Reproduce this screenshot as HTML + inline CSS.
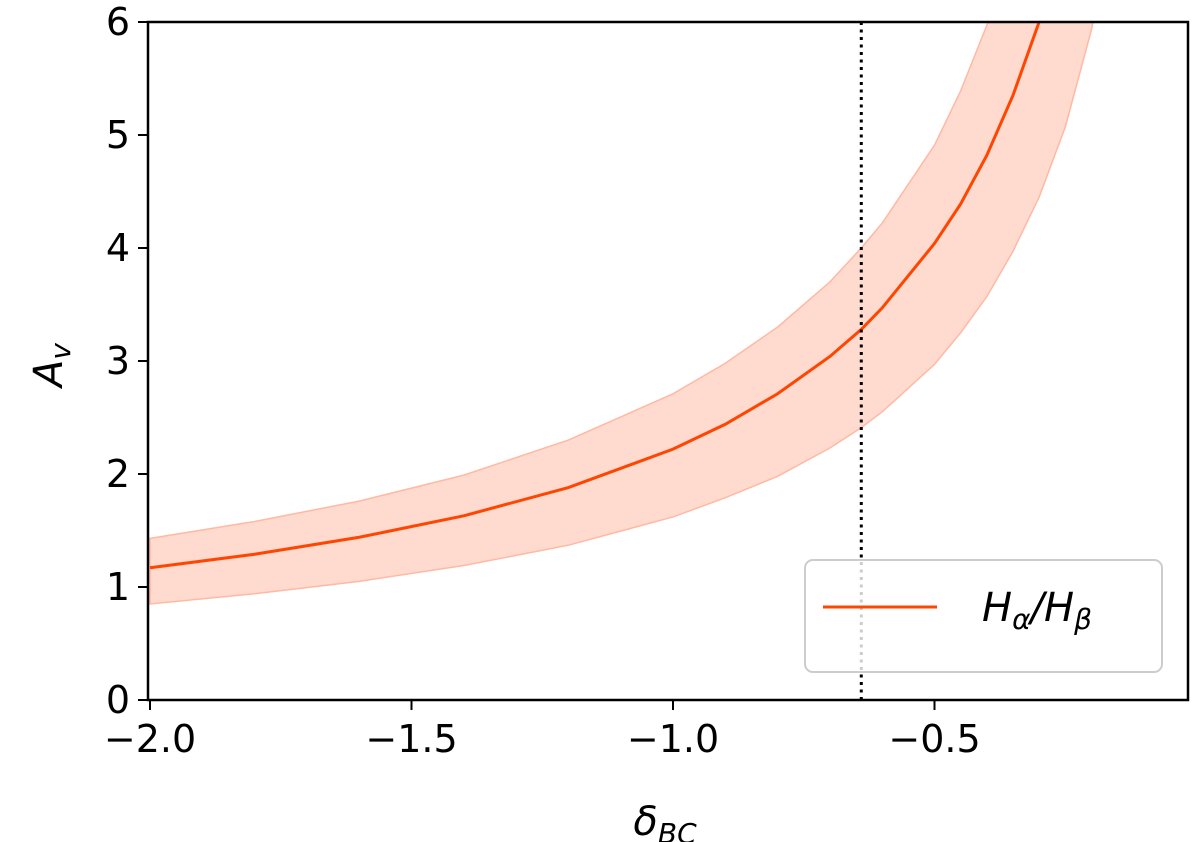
<!DOCTYPE html>
<html><head><meta charset="utf-8"><style>
body{margin:0;background:#fff;}
svg{display:block;font-family:"DejaVu Sans","Liberation Sans",sans-serif;}
</style></head><body>
<svg width="1200" height="842" viewBox="0 0 1200 842">
<defs><clipPath id="pc"><rect x="148" y="22" width="1040" height="678"/></clipPath></defs>
<g id="plot" clip-path="url(#pc)"></g>
<rect x="148" y="22" width="1040" height="678" fill="none" stroke="#000" stroke-width="2.5"/>
<g id="ticks"></g>
<text x="665" y="835" font-size="40" text-anchor="middle" font-style="italic">δ<tspan font-size="28" dy="8">BC</tspan></text>
<text transform="translate(62,365) rotate(-90)" font-size="40" text-anchor="middle" font-style="italic">A<tspan font-size="28" dy="8">v</tspan></text>
<g>
<rect x="805" y="560" width="357" height="112" rx="8" fill="#fff" fill-opacity="0.8" stroke="#ccc" stroke-width="2"/>
<line x1="823" y1="607" x2="937" y2="607" stroke="#ff4500" stroke-width="3"/>
<text x="982" y="621" font-size="40" font-style="italic">H<tspan font-size="28" dy="8">α</tspan><tspan dy="-8">/H</tspan><tspan font-size="28" dy="8">β</tspan></text>
</g>
</svg>
<script>
const xs=[-2,-1.8,-1.6,-1.4,-1.2,-1.0,-0.9,-0.8,-0.7,-0.64,-0.6,-0.5,-0.45,-0.4,-0.35,-0.3,-0.25,-0.2,-0.15];
const center=[1.17,1.29,1.44,1.63,1.88,2.22,2.44,2.71,3.04,3.28,3.47,4.04,4.39,4.82,5.35,6.0,6.8,7.9,9.5];
const upper=[1.43,1.58,1.76,1.99,2.30,2.71,2.98,3.30,3.70,4.0,4.22,4.91,5.39,5.97,6.51,7.29,8.2,9.5,11.3];
const lower=[0.85,0.94,1.05,1.19,1.37,1.62,1.79,1.98,2.23,2.41,2.55,2.97,3.25,3.57,3.97,4.45,5.07,5.93,7.1];
const vline=-0.64;
const xTicks=[-2.0,-1.5,-1.0,-0.5];
const xTickLabels=["−2.0","−1.5","−1.0","−0.5"];
const yTicks=[0,1,2,3,4,5,6];
const X=v=>150+(v+2)*523;
const Y=v=>700-v*113;
const NS="http://www.w3.org/2000/svg";
const plot=document.getElementById('plot');
const ticks=document.getElementById('ticks');
function mk(tag,attrs,parent){const e=document.createElementNS(NS,tag);for(const k in attrs)e.setAttribute(k,attrs[k]);parent.appendChild(e);return e;}
let d='M'+xs.map((x,i)=>X(x)+','+Y(upper[i])).join(' L');
for(let i=xs.length-1;i>=0;i--)d+=' L'+X(xs[i])+','+Y(lower[i]);
const band=mk('path',{d:d+'Z',fill:'#ffdacf',stroke:'#ffb9a3','stroke-width':1.5},plot);


const line=mk('path',{d:'M'+xs.map((x,i)=>X(x)+','+Y(center[i])).join(' L'),fill:'none',stroke:'#ff4500','stroke-width':3},plot);


const vl=mk('line',{x1:X(vline),x2:X(vline),y1:22,y2:700,stroke:'#000','stroke-width':3,'stroke-dasharray':'3,4.5'},plot);


xTicks.forEach((t,i)=>{
 const tk=mk('line',{x1:X(t),x2:X(t),y1:700,y2:710,stroke:'#000','stroke-width':2},ticks);
 
 
 const tx=mk('text',{x:X(t),y:752,'font-size':38,'text-anchor':'middle'},ticks);
 tx.textContent=xTickLabels[i];
 
 
});
yTicks.forEach(t=>{
 const tk=mk('line',{x1:138,x2:148,y1:Y(t),y2:Y(t),stroke:'#000','stroke-width':2},ticks);
 
 
 const tx=mk('text',{x:130,y:Y(t)+13,'font-size':38,'text-anchor':'end'},ticks);
 tx.textContent=String(t);
 
 
});
</script>
</body></html>
